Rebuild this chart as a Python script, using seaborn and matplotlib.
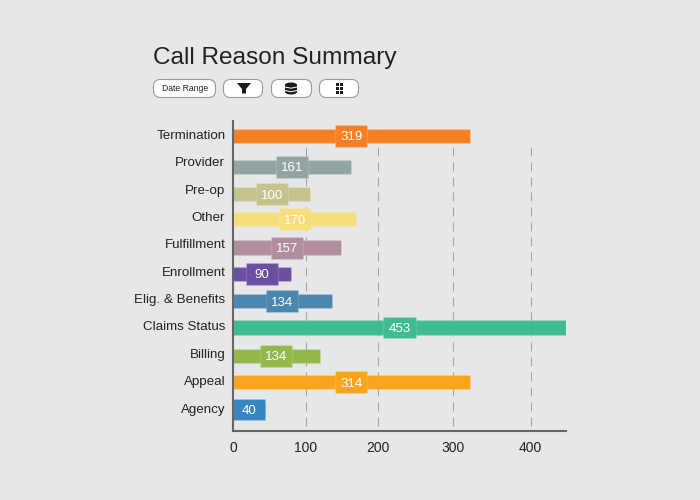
import numpy as np
import seaborn as sns
import matplotlib.pyplot as plt
from matplotlib.patches import FancyBboxPatch, Polygon, Ellipse, Rectangle

reasons = ['Termination', 'Provider', 'Pre-op', 'Other', 'Fulfillment', 'Enrollment',
           'Elig. & Benefits', 'Claims Status', 'Billing', 'Appeal', 'Agency']
bar_values = [322, 160, 105, 168, 147, 79, 134, 453, 118, 322, 44]
shown_values = [319, 161, 100, 170, 157, 90, 134, 453, 134, 314, 40]
colors = ['#f58024', '#93a5a3', '#c5c28d', '#f8dd7c', '#b18e9d', '#6b4fa0',
          '#4a86ae', '#3fbb91', '#92b84a', '#faa41e', '#3686bf']
tick_values = [0, 99, 197, 299, 405]
tick_labels = ['0', '100', '200', '300', '400']

bg = '#e6e7e9'
sns.set_style('white')
plt.rcParams['font.family'] = ['Liberation Sans', 'DejaVu Sans']

fig = plt.figure(figsize=(7, 5), dpi=100, facecolor=bg)
ax = fig.add_axes([233 / 700, 1 - 431 / 500, (566 - 233) / 700, (431 - 121) / 500])
ax.set_facecolor(bg)

edge = (1, 1, 1, 0.12)
sns.barplot(x=bar_values, y=reasons, hue=reasons, palette=colors, legend=False, saturation=1,
            width=0.53, edgecolor=edge, linewidth=1, ax=ax)

# the rows sit a little unevenly in the original
row_shift = [0, 0.13, 0.13, 0.04, 0.08, 0.05, 0.04, 0, 0.04, 0, 0]
for bar, s in zip(ax.patches, row_shift):
    bar.set_y(bar.get_y() + s)

# value badge, same colour as the bar and centred on it
box_w = 43.6
for i, (v, label, c, s) in enumerate(zip(bar_values, shown_values, colors, row_shift)):
    left = max(v / 2 - box_w / 2, 0)
    ax.barh(i + s, box_w, left=left, height=0.8, color=c, edgecolor=edge, linewidth=1)
    ax.text(left + box_w / 2, i + s + 0.05, str(label), color='white', fontsize=9.5,
            ha='center', va='center')

ax.set_xlim(0, 453)
ax.set_ylim(10.786, -0.548)
ax.vlines(tick_values[1:], 0.4, 10.786, color='#a6a6a6', linewidth=0.8,
          linestyles=(0, (8, 5.5)), zorder=0)
ax.set_xticks(tick_values, tick_labels)
ax.set(xlabel='', ylabel='')
ax.tick_params(axis='x', length=0, pad=7, labelsize=10, labelcolor='#222222')
ax.tick_params(axis='y', length=0, pad=5.5, labelsize=9.6, labelcolor='#222222')
for lab in ax.get_yticklabels():
    lab.set_y(lab.get_position()[1])
    lab.set_verticalalignment('center')
sns.despine(ax=ax)
for side in ['left', 'bottom']:
    ax.spines[side].set_color('#666666')
    ax.spines[side].set_linewidth(1.5)

# header drawn on a full-figure overlay in pixel units
top = fig.add_axes([0, 0, 1, 1], zorder=5)
top.set_xlim(0, 700)
top.set_ylim(500, 0)
top.axis('off')
top.text(153, 58, 'Call Reason Summary', fontsize=17.6, color='#222222', ha='left', va='center')

for x0, x1 in [(153, 216), (223, 263), (271, 312), (319, 359)]:
    top.add_patch(FancyBboxPatch((x0 + 0.5, 79.5), x1 - x0 - 1, 18, boxstyle='round,pad=0,rounding_size=7',
                                 facecolor='white', edgecolor='#999999', linewidth=0.8))
top.text(185, 88.5, 'Date Range', fontsize=6.2, color='#222222', ha='center', va='center')

icon = '#1a1a1a'
top.add_patch(Polygon([(237, 83), (251, 83), (246, 89), (246, 93.5), (242, 93.5), (242, 89)],
                      closed=True, facecolor=icon, edgecolor='none'))
top.add_patch(Rectangle((285, 85), 12, 7, facecolor=icon, edgecolor='none'))
top.add_patch(Ellipse((291, 85), 12, 5, facecolor=icon, edgecolor='none'))
top.add_patch(Ellipse((291, 92), 12, 5, facecolor=icon, edgecolor='none'))
for y in [87, 90.5]:
    top.plot([285, 291, 297], [y, y + 1.2, y], color='white', linewidth=0.7)
for col in [336.2, 340.3]:
    for row in [83, 87, 91]:
        top.add_patch(Rectangle((col, row), 2.6, 2.6, facecolor=icon, edgecolor='none'))

fig.savefig('out.png', dpi=100, facecolor=bg)
